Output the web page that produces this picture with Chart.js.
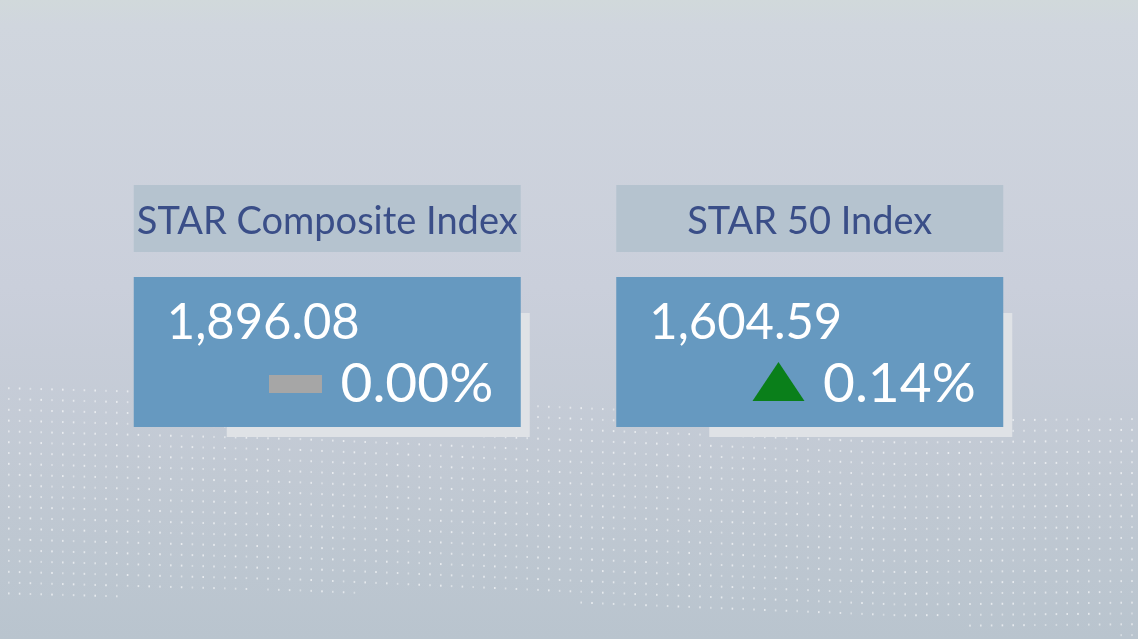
<!DOCTYPE html>
<html><head><meta charset="utf-8">
<script src="https://cdn.jsdelivr.net/npm/chart.js@4"></script>
<style>
html,body{margin:0;padding:0;background:#c9d0da;overflow:hidden}
#wrap{width:1138px;height:639px;position:relative}
</style>
</head><body>
<div id="wrap"><canvas id="c"></canvas></div>
<script>
// ---- data ----
const indexNames = ['STAR Composite Index', 'STAR 50 Index'];
const closeValues = [1896.08, 1604.59];
const changePct = [0.00, 0.14];

const FONT = '"Lato", "Open Sans", sans-serif';

function fmtClose(v){ return v.toLocaleString('en-US',{minimumFractionDigits:2, maximumFractionDigits:2}); }
function fmtPct(v){ return Math.abs(v).toFixed(2) + '%'; }

const bgPlugin = {
  id: 'bg',
  beforeDraw(chart){
    const {ctx, width, height} = chart;
    ctx.save();
    const g = ctx.createLinearGradient(0,0,0,height);
    g.addColorStop(0, '#d1d9db');
    g.addColorStop(0.04, '#d0d6de');
    g.addColorStop(0.45, '#cacfdb');
    g.addColorStop(0.75, '#c1c9d3');
    g.addColorStop(1, '#b9c4ce');
    ctx.fillStyle = g;
    ctx.fillRect(0,0,width,height);
    // dotted wave band
    const topE = [[0,387],[300,395],[600,408],[900,420],[1138,418]];
    const botE = [[0,603],[250,588],[500,597],[800,614],[1138,636]];
    const interp = (pts,x)=>{
      for(let i=0;i<pts.length-1;i++){
        if(x<=pts[i+1][0]){
          const t=(x-pts[i][0])/(pts[i+1][0]-pts[i][0]);
          return pts[i][1]+t*(pts[i+1][1]-pts[i][1]);
        }
      }
      return pts[pts.length-1][1];
    };
    for(let x=8; x<width; x+=10.8){
      const t0 = interp(topE,x), b0 = interp(botE,x);
      for(let y=t0; y<b0; y+=10.8){
        const a = 0.4 + 0.3*((Math.floor(x*7+y*3))%5)/5;
        ctx.fillStyle = 'rgba(255,255,255,'+a.toFixed(2)+')';
        ctx.fillRect(x, y, 1.6, 2);
      }
    }
    ctx.restore();
  }
};

const cardPlugin = {
  id: 'cards',
  afterDatasetsDraw(chart){
    const {ctx} = chart;
    const xs = chart.scales.x;
    ctx.save();
    indexNames.forEach((name,i)=>{
      const cx = xs.getPixelForValue(i);
      const L = cx - 193.5, W = 387;
      // shadow panel
      ctx.fillStyle = '#dfe2e6';
      ctx.fillRect(cx - 100.5, 313, 303, 124);
      // header
      ctx.fillStyle = '#b5c3cf';
      ctx.fillRect(L, 185, W, 67);
      // body
      ctx.fillStyle = '#6699c0';
      ctx.fillRect(L, 277, W, 150);
      // header text
      ctx.fillStyle = '#3a4e88';
      ctx.font = '38px ' + FONT;
      ctx.textAlign = 'center';
      ctx.textBaseline = 'alphabetic';
      ctx.fillText(name, cx, 234, 383);
      // value
      ctx.fillStyle = '#ffffff';
      ctx.font = '51px ' + FONT;
      ctx.textAlign = 'left';
      ctx.fillText(fmtClose(closeValues[i]), cx - 160.5, 339, 193);
      // change
      ctx.font = '55px ' + FONT;
      ctx.textAlign = 'right';
      const pct = fmtPct(changePct[i]);
      const right = cx + 166;
      ctx.fillText(pct, right, 402);
      const tw = ctx.measureText(pct).width;
      const indR = right - tw - 18.5;
      const v = changePct[i];
      if (v === 0){
        ctx.fillStyle = '#a6a6a6';
        ctx.fillRect(indR - 53, 375, 53, 18);
      } else if (v > 0){
        ctx.fillStyle = '#0a7f1a';
        ctx.beginPath();
        ctx.moveTo(indR - 52, 401); ctx.lineTo(indR, 401); ctx.lineTo(indR - 26, 362); ctx.closePath(); ctx.fill();
      } else {
        ctx.fillStyle = '#d0201a';
        ctx.beginPath();
        ctx.moveTo(indR - 52, 362); ctx.lineTo(indR, 362); ctx.lineTo(indR - 26, 401); ctx.closePath(); ctx.fill();
      }
    });
    ctx.restore();
  }
};

new Chart(document.getElementById('c'), {
  type: 'bar',
  data: {
    labels: indexNames,
    datasets: [{ data: closeValues, backgroundColor: 'rgba(0,0,0,0)', borderWidth: 0 }]
  },
  options: {
    responsive: true,
    maintainAspectRatio: false,
    animation: false,
    events: [],
    layout: { padding: { left: 86, right: 87, top: 0, bottom: 0 } },
    plugins: { legend: { display: false }, tooltip: { enabled: false }, title: { display: false } },
    scales: { x: { display: false }, y: { display: false, min: 0 } }
  },
  plugins: [bgPlugin, cardPlugin]
});
</script>
</body></html>
